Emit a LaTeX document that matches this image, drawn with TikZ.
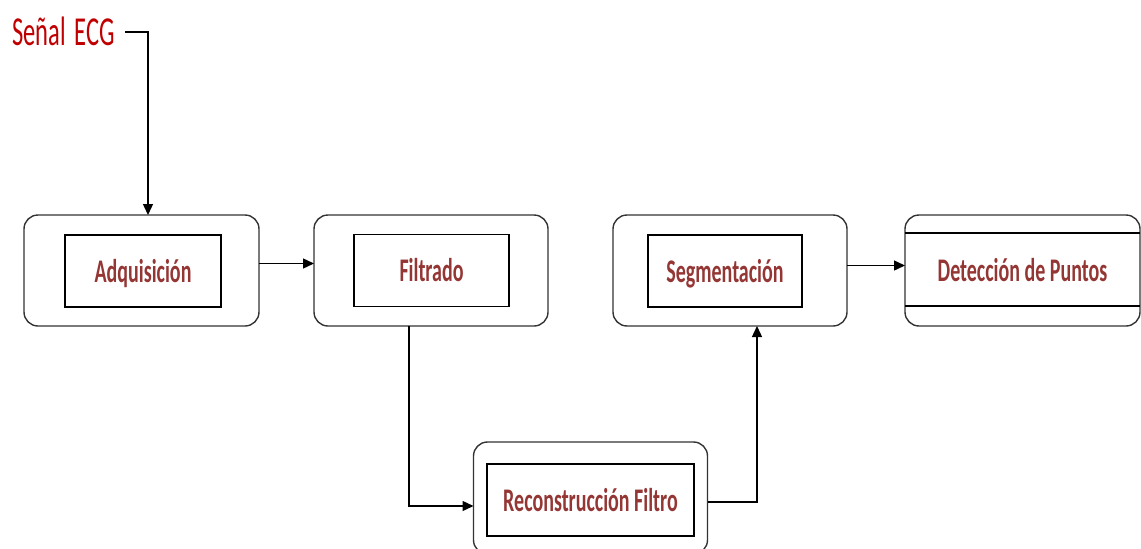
\documentclass[tikz,border=0pt]{standalone}
\usepackage{fontspec}
\setmainfont{Carlito}
\usetikzlibrary{arrows.meta,positioning}
\definecolor{labelred}{HTML}{943634}
\definecolor{signalred}{HTML}{C00000}
\newcommand{\blocklabel}[1]{\scalebox{1}[1.65]{\vphantom{Ágq}#1}}
\tikzset{
  outerbox/.style={draw=black!80, line width=1.4pt, rounded corners=14pt,
    minimum width=#1, minimum height=111pt, inner sep=0pt, outer sep=0pt},
  innerbox/.style={draw=black, line width=1.1pt, minimum height=72pt,
    minimum width=#1, inner sep=0pt, outer sep=0pt,
    text=labelred, font=\fontsize{20}{24}\selectfont\bfseries},
  flow/.style={draw=black, line width=1.4pt,
    -{Triangle[length=11pt,width=10pt]}},
}
\begin{document}
\begin{tikzpicture}[x=1pt,y=-1pt]
\useasboundingbox (0,0) rectangle (1141,549);
\clip (0,0) rectangle (1141,549);

% processing stages
\node[outerbox=235pt] (adq) at (141.5,270.5) {};
\node[innerbox=156pt] (adqin) at (143,271) {\blocklabel{Adquisición}};

\node[outerbox=234pt] (filt) at (431,270.5) {};
\node[innerbox=155pt] (filtin) at (431.5,270.5) {\blocklabel{Filtrado}};

\node[outerbox=234pt] (seg) at (730,270.5) {};
\node[innerbox=154pt] (segin) at (725,271) {\blocklabel{Segmentación}};

\node[outerbox=234pt, minimum height=112pt] (rec) at (590.5,498) {};
\node[innerbox=207pt] (recin) at (590.5,500) {\blocklabel{Reconstrucción Filtro}};

\node[outerbox=235pt, text=labelred,
      font=\fontsize{20}{24}\selectfont\bfseries] (det) at (1022.5,270.5)
      {\blocklabel{Detección de Puntos}};
\draw[black, line width=1.3pt] ([yshift=-18pt]det.north west) -- ([yshift=-18pt]det.north east);
\draw[black, line width=1.3pt] ([yshift=20pt]det.south west) -- ([yshift=20pt]det.south east);

% input signal
\node[anchor=base west, inner sep=0pt, text=signalred,
      font=\fontsize{24.5}{28}\selectfont] (ecg) at (12,45)
      {\scalebox{1}[1.68]{Señal\hspace{9pt}ECG}};
\coordinate (ecgtail) at (125,32);

% connectors
\draw[flow] (ecgtail) -| ([xshift=6.5pt]adq.north);
\draw[flow] ([yshift=7pt]adq.east) -- ([yshift=7pt]filt.west);
\draw[flow] ([xshift=-22pt]filt.south) |- ([yshift=-8pt]rec.west);
\draw[flow] ([yshift=-4pt]rec.east) -| ([xshift=27pt]seg.south);
\draw[flow] ([yshift=5pt]seg.east) -- ([yshift=5pt]det.west);
\end{tikzpicture}
\end{document}
